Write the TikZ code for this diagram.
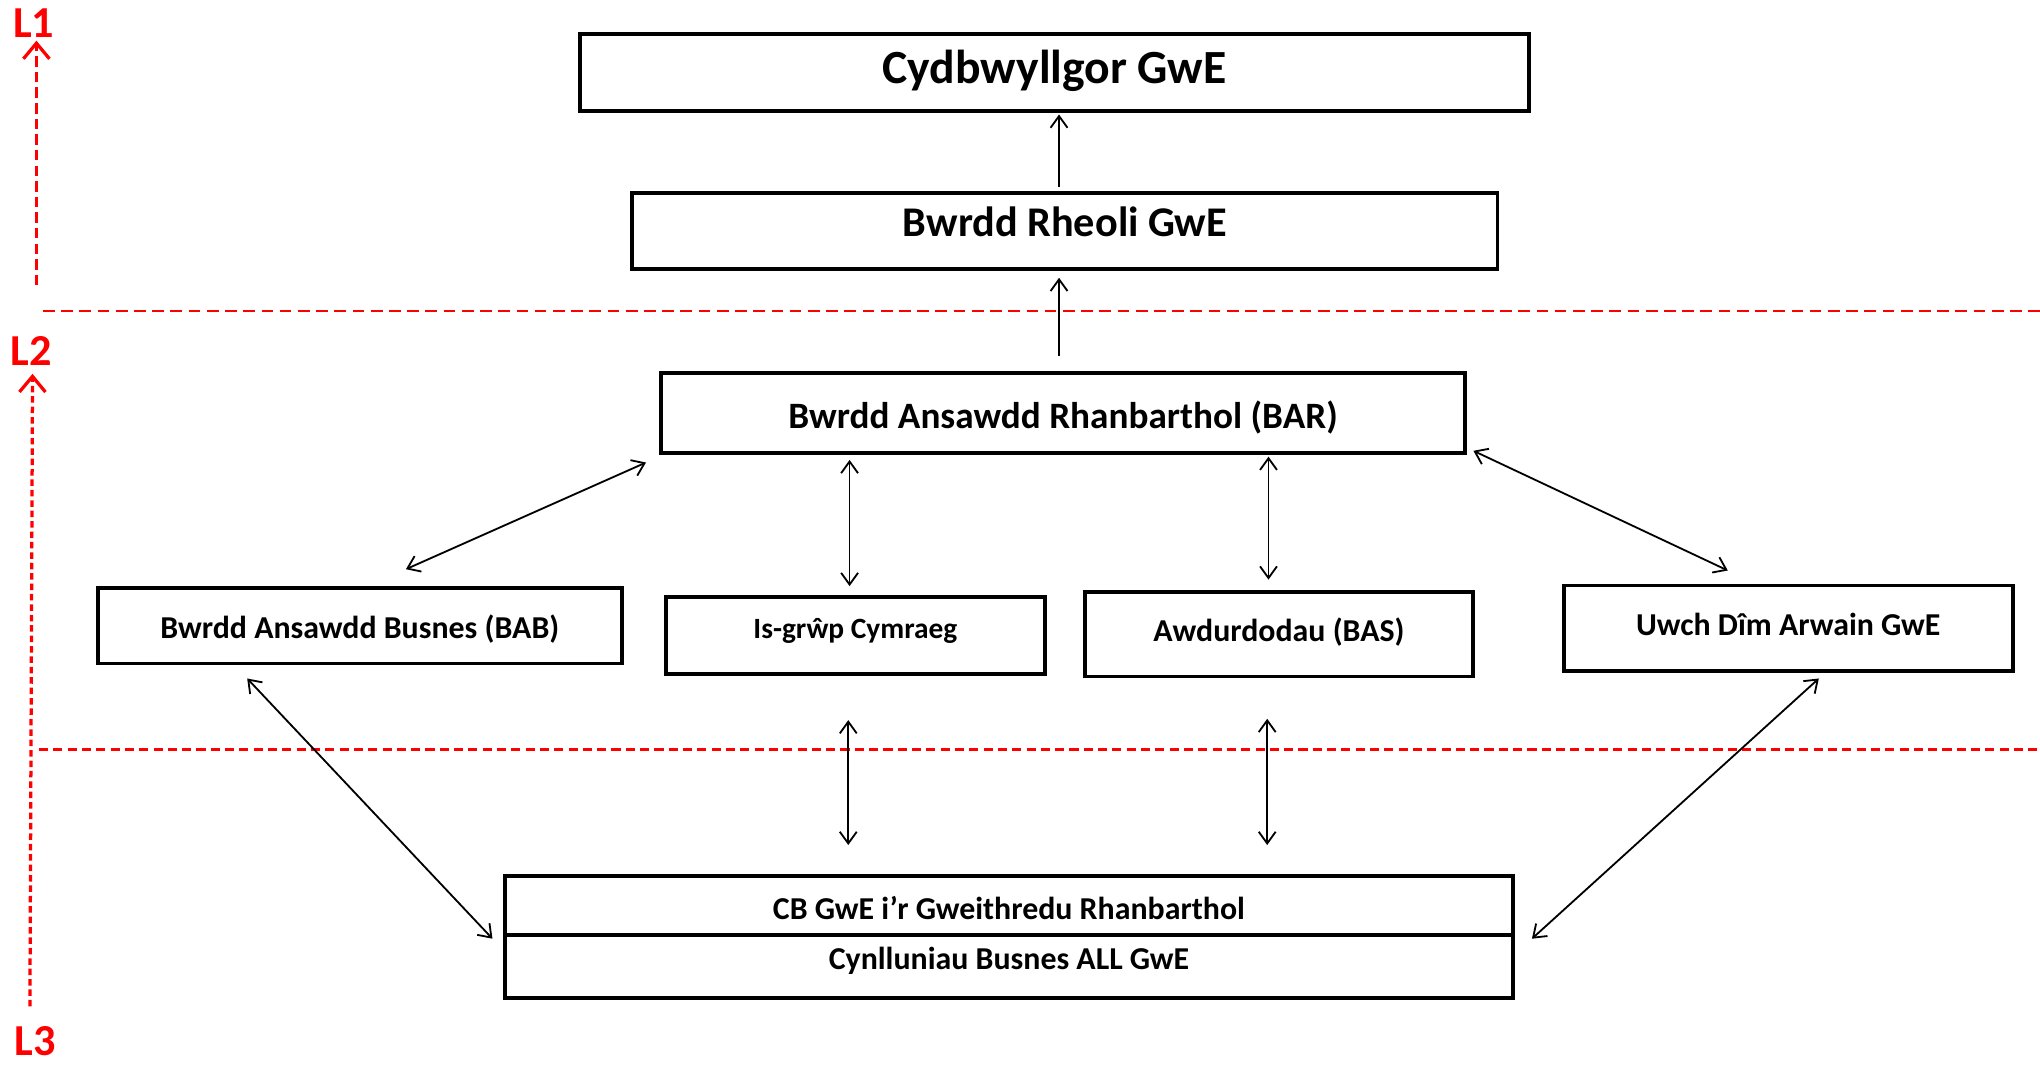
\documentclass[tikz,border=0pt]{standalone}
\usepackage{fontspec}
\setmainfont{Carlito}
\usetikzlibrary{arrows.meta,calc}
\begin{document}
\begin{tikzpicture}[x=1pt,y=-1pt,
  box/.style={draw=black,line width=3pt,inner sep=0pt,rectangle},
  lbl/.style={inner sep=0pt,text height=0.7em,text depth=0.2em,font=\bfseries},
  arr/.style={line width=1.4pt,{Straight Barb[length=9pt,width=13pt]}-{Straight Barb[length=9pt,width=13pt]}},
  uparr/.style={line width=1.4pt,-{Straight Barb[length=9pt,width=13pt]}},
  lvl/.style={text=red,font=\fontsize{34}{40}\selectfont\bfseries,inner sep=0pt},
  reddash/.style={draw=red,line width=2pt},
]
\useasboundingbox (0,0) rectangle (1568,819.4);
% boxes
\node[box,minimum width=729pt,minimum height=59pt,
  label={[lbl,font=\fontsize{36.6}{40}\selectfont\bfseries,yshift=-6pt]center:Cydbwyllgor GwE}] (cyd) at (810.5,55.5) {};
\node[box,minimum width=665pt,minimum height=59pt,
  label={[lbl,font=\fontsize{32.5}{38}\selectfont\bfseries,yshift=-2pt]center:Bwrdd Rheoli GwE}] (rhe) at (818.5,177.5) {};
\node[box,minimum width=618pt,minimum height=61pt,
  label={[lbl,font=\fontsize{28.6}{34}\selectfont\bfseries,yshift=-9pt]center:Bwrdd Ansawdd Rhanbarthol (BAR)}] (bar) at (817,317.5) {};
\node[box,minimum width=403pt,minimum height=58pt,
  label={[lbl,font=\fontsize{24.5}{30}\selectfont\bfseries,yshift=-7pt]center:Bwrdd Ansawdd Busnes (BAB)}] (bab) at (276.5,481) {};
\node[box,minimum width=291pt,minimum height=59pt,
  label={[lbl,font=\fontsize{22.6}{28}\selectfont\bfseries,yshift=0.5pt]center:Is-grŵp Cymraeg}] (isg) at (657.5,488.5) {};
\node[box,minimum width=298pt,minimum height=65pt,
  label={[lbl,font=\fontsize{24.5}{30}\selectfont\bfseries,yshift=-3pt]center:Awdurdodau (BAS)}] (awd) at (983,487.5) {};
\node[box,minimum width=345pt,minimum height=66pt,
  label={[lbl,font=\fontsize{24.5}{30}\selectfont\bfseries,yshift=-3pt]center:Uwch Dîm Arwain GwE}] (uwch) at (1374.5,483) {};
\node[box,minimum width=775pt,minimum height=46pt,
  label={[lbl,font=\fontsize{24.5}{30}\selectfont\bfseries,yshift=-8pt]center:CB GwE i’r Gweithredu Rhanbarthol}] (cb) at (775.5,696) {};
\node[box,minimum width=775pt,minimum height=48pt,
  label={[lbl,font=\fontsize{24.5}{30}\selectfont\bfseries,yshift=0pt]center:Cynlluniau Busnes ALL GwE}] (cyn) at (775.5,743) {};
% level labels
\node[lvl] (l1) at (26,18) {L1};
\node[lvl] (l2) at (24,270) {L2};
\node[lvl] (l3) at (27,800) {L3};
% red dashed separators
\coordinate (s1a) at (33,239); \coordinate (s1b) at (1568,239);
\coordinate (s2a) at (30,576); \coordinate (s2b) at (1568,576);
\draw[reddash,dash pattern=on 9pt off 5pt] (s1a) -- (s1b);
\draw[reddash,dash pattern=on 7pt off 4pt] (s2a) -- (s2b);
% level arrows
\draw[red,line width=2.5pt,dash pattern=on 8pt off 4pt,-{Straight Barb[length=12pt,width=20pt]}]
  ([xshift=2pt,yshift=-190pt]l1.south) -- ([xshift=2pt,yshift=-2pt]l1.south);
\draw[red,line width=2.5pt,dash pattern=on 5pt off 3pt,-{Straight Barb[length=12pt,width=20pt]}]
  ([xshift=-4pt,yshift=15pt]l3.north) -- ([xshift=1pt,yshift=-6pt]l2.south);
% connectors
\draw[uparr] ([xshift=-4.5pt,yshift=3pt]rhe.north) -- ([xshift=3.5pt,yshift=-1.5pt]cyd.south);
\draw[uparr] ([xshift=-3pt,yshift=12pt]bar.north) -- ([xshift=-4.5pt,yshift=-5pt]rhe.south);
\draw[arr] ([xshift=-10pt,yshift=-6pt]bar.south west) -- ([xshift=35.5pt,yshift=13pt]bab.north);
\draw[arr] ([xshift=-164pt,yshift=-4pt]bar.south) -- ([xshift=-4.5pt,yshift=7pt]isg.north);
\draw[arr] ([xshift=158pt,yshift=-1.5pt]bar.south) -- ([xshift=-8pt,yshift=8pt]awd.north);
\draw[arr] ([xshift=5pt,yshift=3pt]bar.south east) -- ([xshift=-46.5pt,yshift=10pt]uwch.north);
\draw[arr] ([xshift=-86.5pt,yshift=-10pt]bab.south) -- ([xshift=-8pt,yshift=-1pt]cb.south west);
\draw[arr] ([xshift=-5.5pt,yshift=-34pt]isg.south) -- ([xshift=-123.5pt,yshift=22pt]cb.north);
\draw[arr] ([xshift=-9pt,yshift=-31pt]awd.south) -- ([xshift=198.5pt,yshift=22pt]cb.north);
\draw[arr] ([xshift=23.5pt,yshift=-4pt]uwch.south) -- ([xshift=13pt,yshift=-1pt]cb.south east);
\end{tikzpicture}
\end{document}
